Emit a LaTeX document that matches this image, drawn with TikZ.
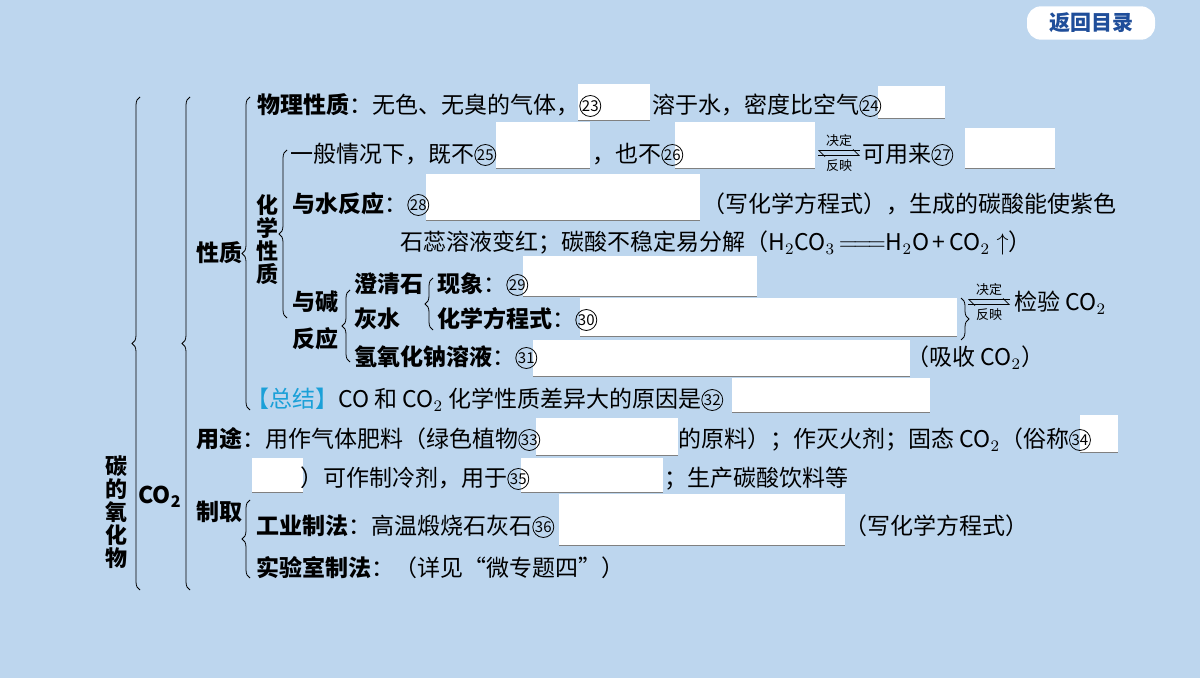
\documentclass[tikz,border=0pt]{standalone}
\usepackage{fontspec}
\setmainfont{Noto Sans CJK SC}
\usetikzlibrary{decorations.pathreplacing,arrows.meta,calc}
\definecolor{bgblue}{HTML}{BDD6EE}
\definecolor{btnblue}{HTML}{1F4E9A}
\definecolor{sumcyan}{HTML}{1AA0D8}
\tikzset{
  txt/.style={anchor=base west,inner sep=0pt,font=\fontsize{11.5}{13}\selectfont},
  bld/.style={txt,font=\fontsize{11.5}{13}\selectfont\bfseries},
  small/.style={inner sep=0pt,font=\fontsize{6.5}{7}\selectfont},
  brc/.style={decorate,decoration={brace,amplitude=4pt},thin},
}
\newcommand{\blankbox}[4]{%
  \fill[white] (#1,#2) rectangle (#3,#4);
  \draw[gray,thin] (#1,#4) -- (#3,#4);}
\newcommand{\cir}[1]{\tikz[baseline={([yshift=-4pt]c.center)}]\node[circle,draw,thin,inner sep=0pt,
  minimum size=10.5pt,font=\fontsize{7.5}{7.5}\selectfont] (c) {#1};}
\begin{document}
\begin{tikzpicture}[x=0.5pt,y=-0.5pt]
\useasboundingbox[fill=bgblue] (0,0) rectangle (1200,678);
% button
\node[fill=white,rounded corners=7pt,minimum width=64pt,minimum height=15pt,
  font=\fontsize{10.5}{12}\selectfont\bfseries,text=btnblue] (back) at (1091,23) {返回目录};
% blanks
\blankbox{578}{84}{650}{120}
\blankbox{878}{86}{945}{118}
\blankbox{496}{122}{590}{168}
\blankbox{675}{122}{815}{168}
\blankbox{965}{128}{1055}{168}
\blankbox{426}{174}{700}{220}
\blankbox{523}{256}{757}{296}
\blankbox{580}{298}{957}{336}
\blankbox{533}{340}{910}{376}
\blankbox{732}{378}{930}{412}
\blankbox{536}{418}{678}{455}
\blankbox{1080}{415}{1118}{452}
\blankbox{252}{458}{303}{492}
\blankbox{521}{458}{663}{492}
\blankbox{559}{494}{845}{545}
% braces
\draw[brc] (140,590) -- (140,97);
\draw[brc] (190,590) -- (190,97);
\draw[brc] (250,410) -- (250,97);
\draw[brc] (287,318) -- (287,150);
\draw[brc] (350,362) -- (350,290);
\draw[brc] (433,330) -- (433,278);
\draw[brc] (250,578) -- (250,500);
\draw[brc] (961,298) -- (961,340);
% vertical labels
\node[bld,anchor=center,align=center,font=\fontsize{11}{11.5}\selectfont\bfseries] (carb) at (116,512) {碳\\的\\氧\\化\\物};
\node[bld,anchor=center] (co2) at (160,497) {CO$_{\mathbf 2}$};
\node[bld,anchor=center] (prop) at (219,253) {性质};
\node[bld,anchor=center,align=center,font=\fontsize{11}{11.5}\selectfont\bfseries] (chem) at (267,240) {化\\学\\性\\质};
\node[bld] (alk1) at (292,311) {与碱};
\node[bld] (alk2) at (292,348) {反应};
% rows
\node[txt] (r1a) at (257,114) {\textbf{物理性质}：无色、无臭的气体，\cir{23}};
\node[txt] (r1b) at (652,114) {溶于水，密度比空气\cir{24}};
\node[txt] (r2a) at (290,163) {一般情况下，既不\cir{25}};
\node[txt] (r2b) at (592,163) {，也不\cir{26}};
\node[txt] (r2c) at (862,163) {可用来\cir{27}};
\node[txt] (r3a) at (292,213) {\textbf{与水反应}：\cir{28}};
\node[txt] (r3b) at (702,213) {（写化学方程式），生成的碳酸能使紫色};
\node[txt] (r4) at (400,251) {石蕊溶液变红；碳酸不稳定易分解（H$_2$CO$_3$\,$=\!=\!=$H$_2$O\,+\,CO$_2\uparrow$）};
\node[bld] (r5a) at (354,293) {澄清石};
\node[bld] (r6a) at (354,328) {灰水};
\node[txt] (r5b) at (437,293) {\textbf{现象}：\cir{29}};
\node[txt] (r6b) at (437,328) {\textbf{化学方程式}：\cir{30}};
\node[txt] (r7a) at (354,366) {\textbf{氢氧化钠溶液}：\cir{31}};
\node[txt] (r7b) at (906,366) {（吸收 CO$_2$）};
\node[txt] (r56c) at (1014,311) {检验 CO$_2$};
\node[txt] (r8a) at (246,408) {\textcolor{sumcyan}{【总结】}CO 和 CO$_2$ 化学性质差异大的原因是\cir{32}};
\node[txt] (r9a) at (196,448) {\textbf{用途}：用作气体肥料（绿色植物\cir{33}};
\node[txt] (r9b) at (678,448) {的原料）；作灭火剂；固态 CO$_2$（俗称\cir{34}};
\node[txt] (r10a) at (300,487) {）可作制冷剂，用于\cir{35}};
\node[txt] (r10b) at (664,487) {；生产碳酸饮料等};
\node[bld] (make) at (196,521) {制取};
\node[txt] (r11a) at (256,535) {\textbf{工业制法}：高温煅烧石灰石\cir{36}};
\node[txt] (r11b) at (844,535) {（写化学方程式）};
\node[txt] (r12) at (256,576) {\textbf{实验室制法}：（详见“微专题四”）};
% decide / reflect arrows
\coordinate (d1l) at (818,153); \coordinate (d1r) at (860,153);
\coordinate (d2l) at (968,302); \coordinate (d2r) at (1010,302);
\foreach \l/\r in {d1l/d1r,d2l/d2r}{
  \draw[-{Straight Barb[left,length=3pt]}] ([yshift=-1.2pt]\l) -- ([yshift=-1.2pt]\r);
  \draw[-{Straight Barb[left,length=3pt]}] ([yshift=1.2pt]\r) -- ([yshift=1.2pt]\l);
  \node[small,above=3pt] at ($(\l)!0.5!(\r)$) {决定};
  \node[small,below=3pt] at ($(\l)!0.5!(\r)$) {反映};
}
\end{tikzpicture}
\end{document}
